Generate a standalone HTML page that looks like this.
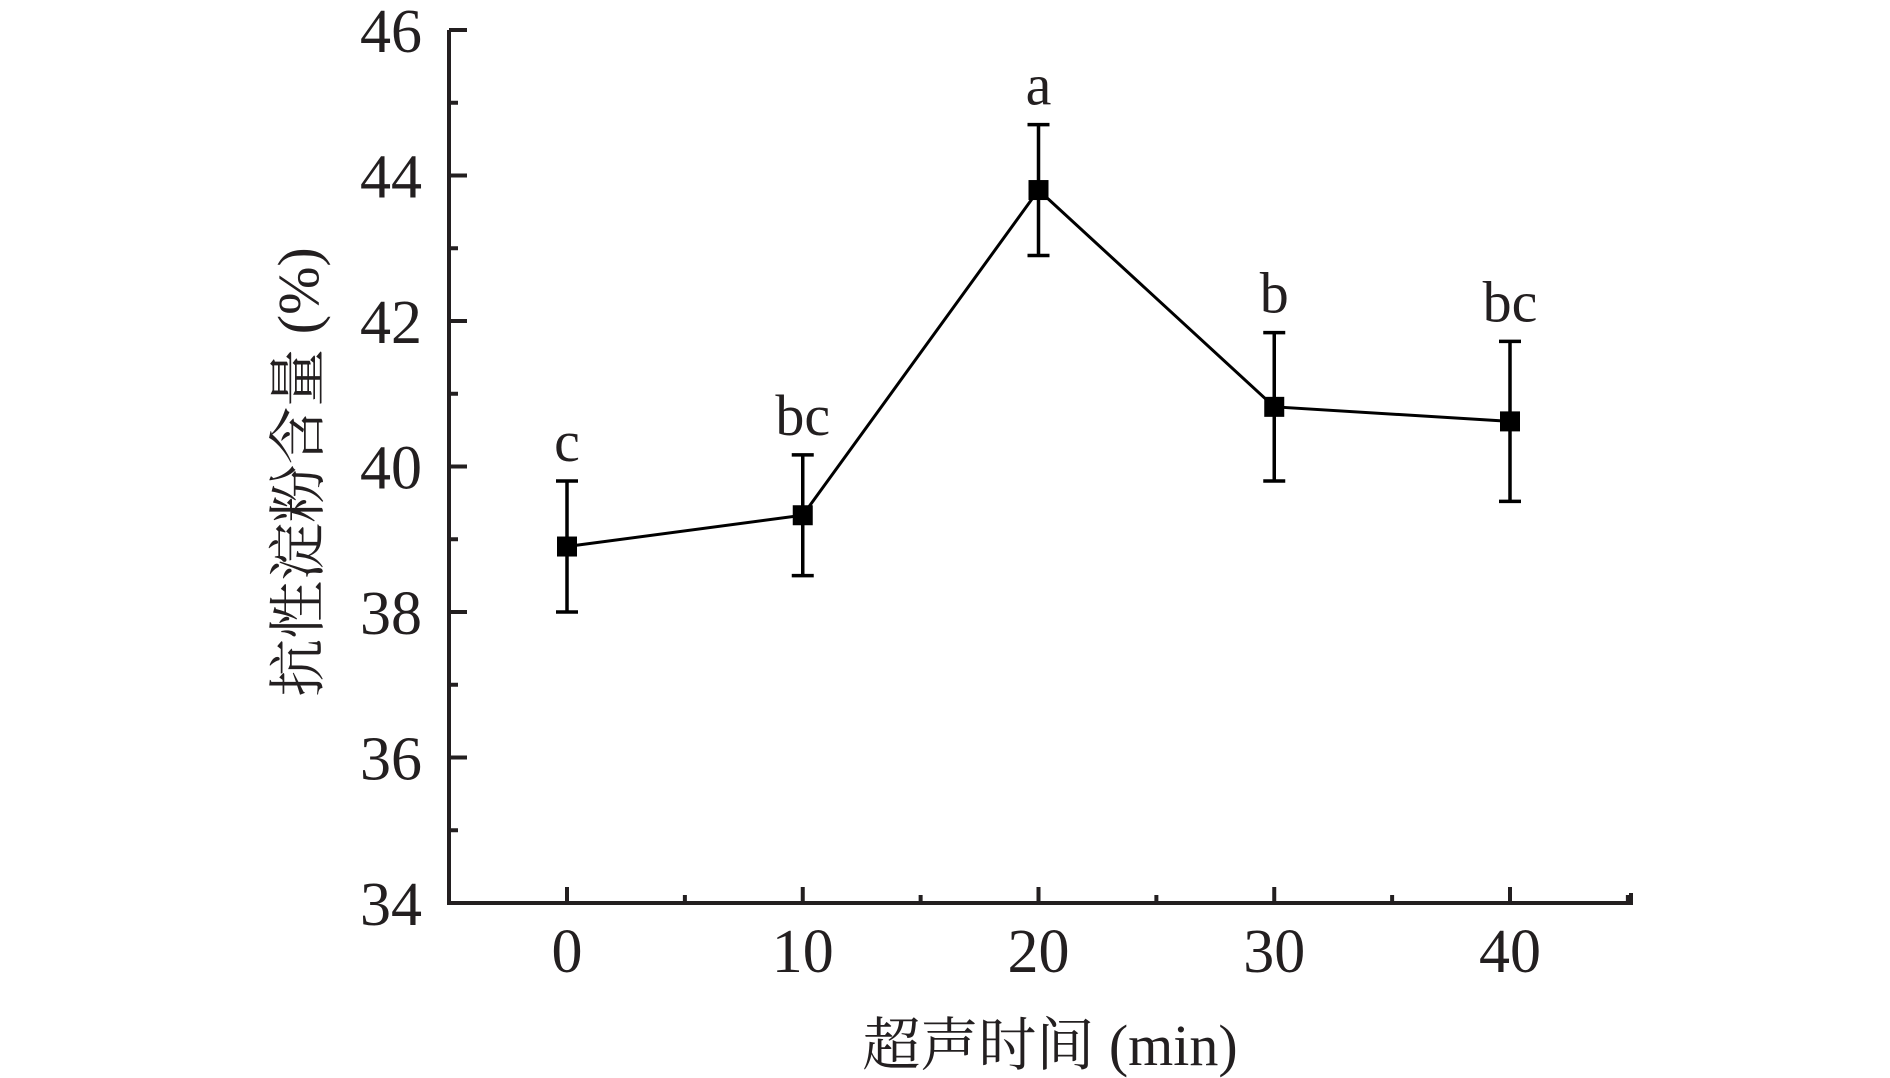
<!DOCTYPE html>
<html><head><meta charset="utf-8"><style>
html,body{margin:0;padding:0;background:#fff;}
svg{display:block;}
text{font-family:"Liberation Serif","Noto Serif CJK SC","Noto Sans CJK SC",serif;fill:#231f20;}
</style></head><body>
<svg id="chart" width="1890" height="1078" viewBox="0 0 1890 1078" xmlns="http://www.w3.org/2000/svg">
<g id="axes"></g><g id="series"></g>
<text x="0" y="0" font-size="58" text-anchor="middle" transform="translate(318,472) rotate(-90)">抗性淀粉含量 (%)</text>
<text x="1050" y="1065" font-size="58" text-anchor="middle">超声时间 (min)</text>
</svg>
<script>
const categories = [0, 10, 20, 30, 40];
const values = [38.9, 39.33, 43.8, 40.82, 40.62];
const errors = [0.9, 0.83, 0.9, 1.02, 1.1];
const letters = ["c", "bc", "a", "b", "bc"];
const yTicks = [34, 36, 38, 40, 42, 44, 46];
const xTicks = [0, 10, 20, 30, 40];

const NS = "http://www.w3.org/2000/svg";
const L = 449, R = 1631, T = 30, B = 903;
function xs(v){ return 567 + (v - 0) * (1510 - 567) / 40; }
function ys(v){ return B - (v - 34) * (B - T) / 12; }
function mk(tag, attrs, parent){
  const e = document.createElementNS(NS, tag);
  for (const k in attrs) e.setAttribute(k, attrs[k]);
  parent.appendChild(e); return e;
}
const axes = document.getElementById('axes');
const ser = document.getElementById('series');
const st = {stroke:"#231f20","stroke-width":4,fill:"none"};

let a = mk('path', Object.assign({d:`M${L},${T} L${L},${B} L${R},${B} L${R},${B-10}`}, st), axes);


mk('line', Object.assign({x1:L,y1:T,x2:L+18,y2:T}, st), axes);

for (let v = 35; v < 46; v += 2) {
  const t = mk('line', Object.assign({x1:L,y1:ys(v),x2:L+9,y2:ys(v)}, st), axes);
  
  
}
yTicks.forEach(v => {
  const t = mk('line', Object.assign({x1:L,y1:ys(v),x2:L+18,y2:ys(v)}, st), axes);
  
  
  const tx = mk('text', {x:422, y:ys(v)+22, "font-size":62, "text-anchor":"end"}, axes);
  tx.textContent = v;
  
  
});
xTicks.forEach(v => {
  const t = mk('line', Object.assign({x1:xs(v),y1:B,x2:xs(v),y2:B-16}, st), axes);
  
  
  const m = mk('line', Object.assign({x1:xs(v+5),y1:B,x2:xs(v+5),y2:B-8}, st), axes);
  
  
  const tx = mk('text', {x:xs(v), y:972, "font-size":62, "text-anchor":"middle"}, axes);
  tx.textContent = v;
  
  
});

const pts = categories.map((c,i) => `${xs(c)},${ys(values[i])}`).join(' ');
const line = mk('polyline', {points:pts, stroke:"#000", "stroke-width":3, fill:"none"}, ser);



categories.forEach((c,i) => {
  const x = xs(c), yh = ys(values[i] + errors[i]), yl = ys(values[i] - errors[i]);
  const eb = mk('path', {d:`M${x},${yh} L${x},${yl} M${x-11},${yh} L${x+11},${yh} M${x-11},${yl} L${x+11},${yl}`, stroke:"#000", "stroke-width":3.5, fill:"none"}, ser);
  
  
  const p = mk('rect', {x:x-10, y:ys(values[i])-10, width:20, height:20, fill:"#000"}, ser);
  
  
  const lt = mk('text', {x:x, y:yh-20, "font-size":58, "text-anchor":"middle"}, ser);
  lt.textContent = letters[i];
  
  
});
</script>
</body></html>
